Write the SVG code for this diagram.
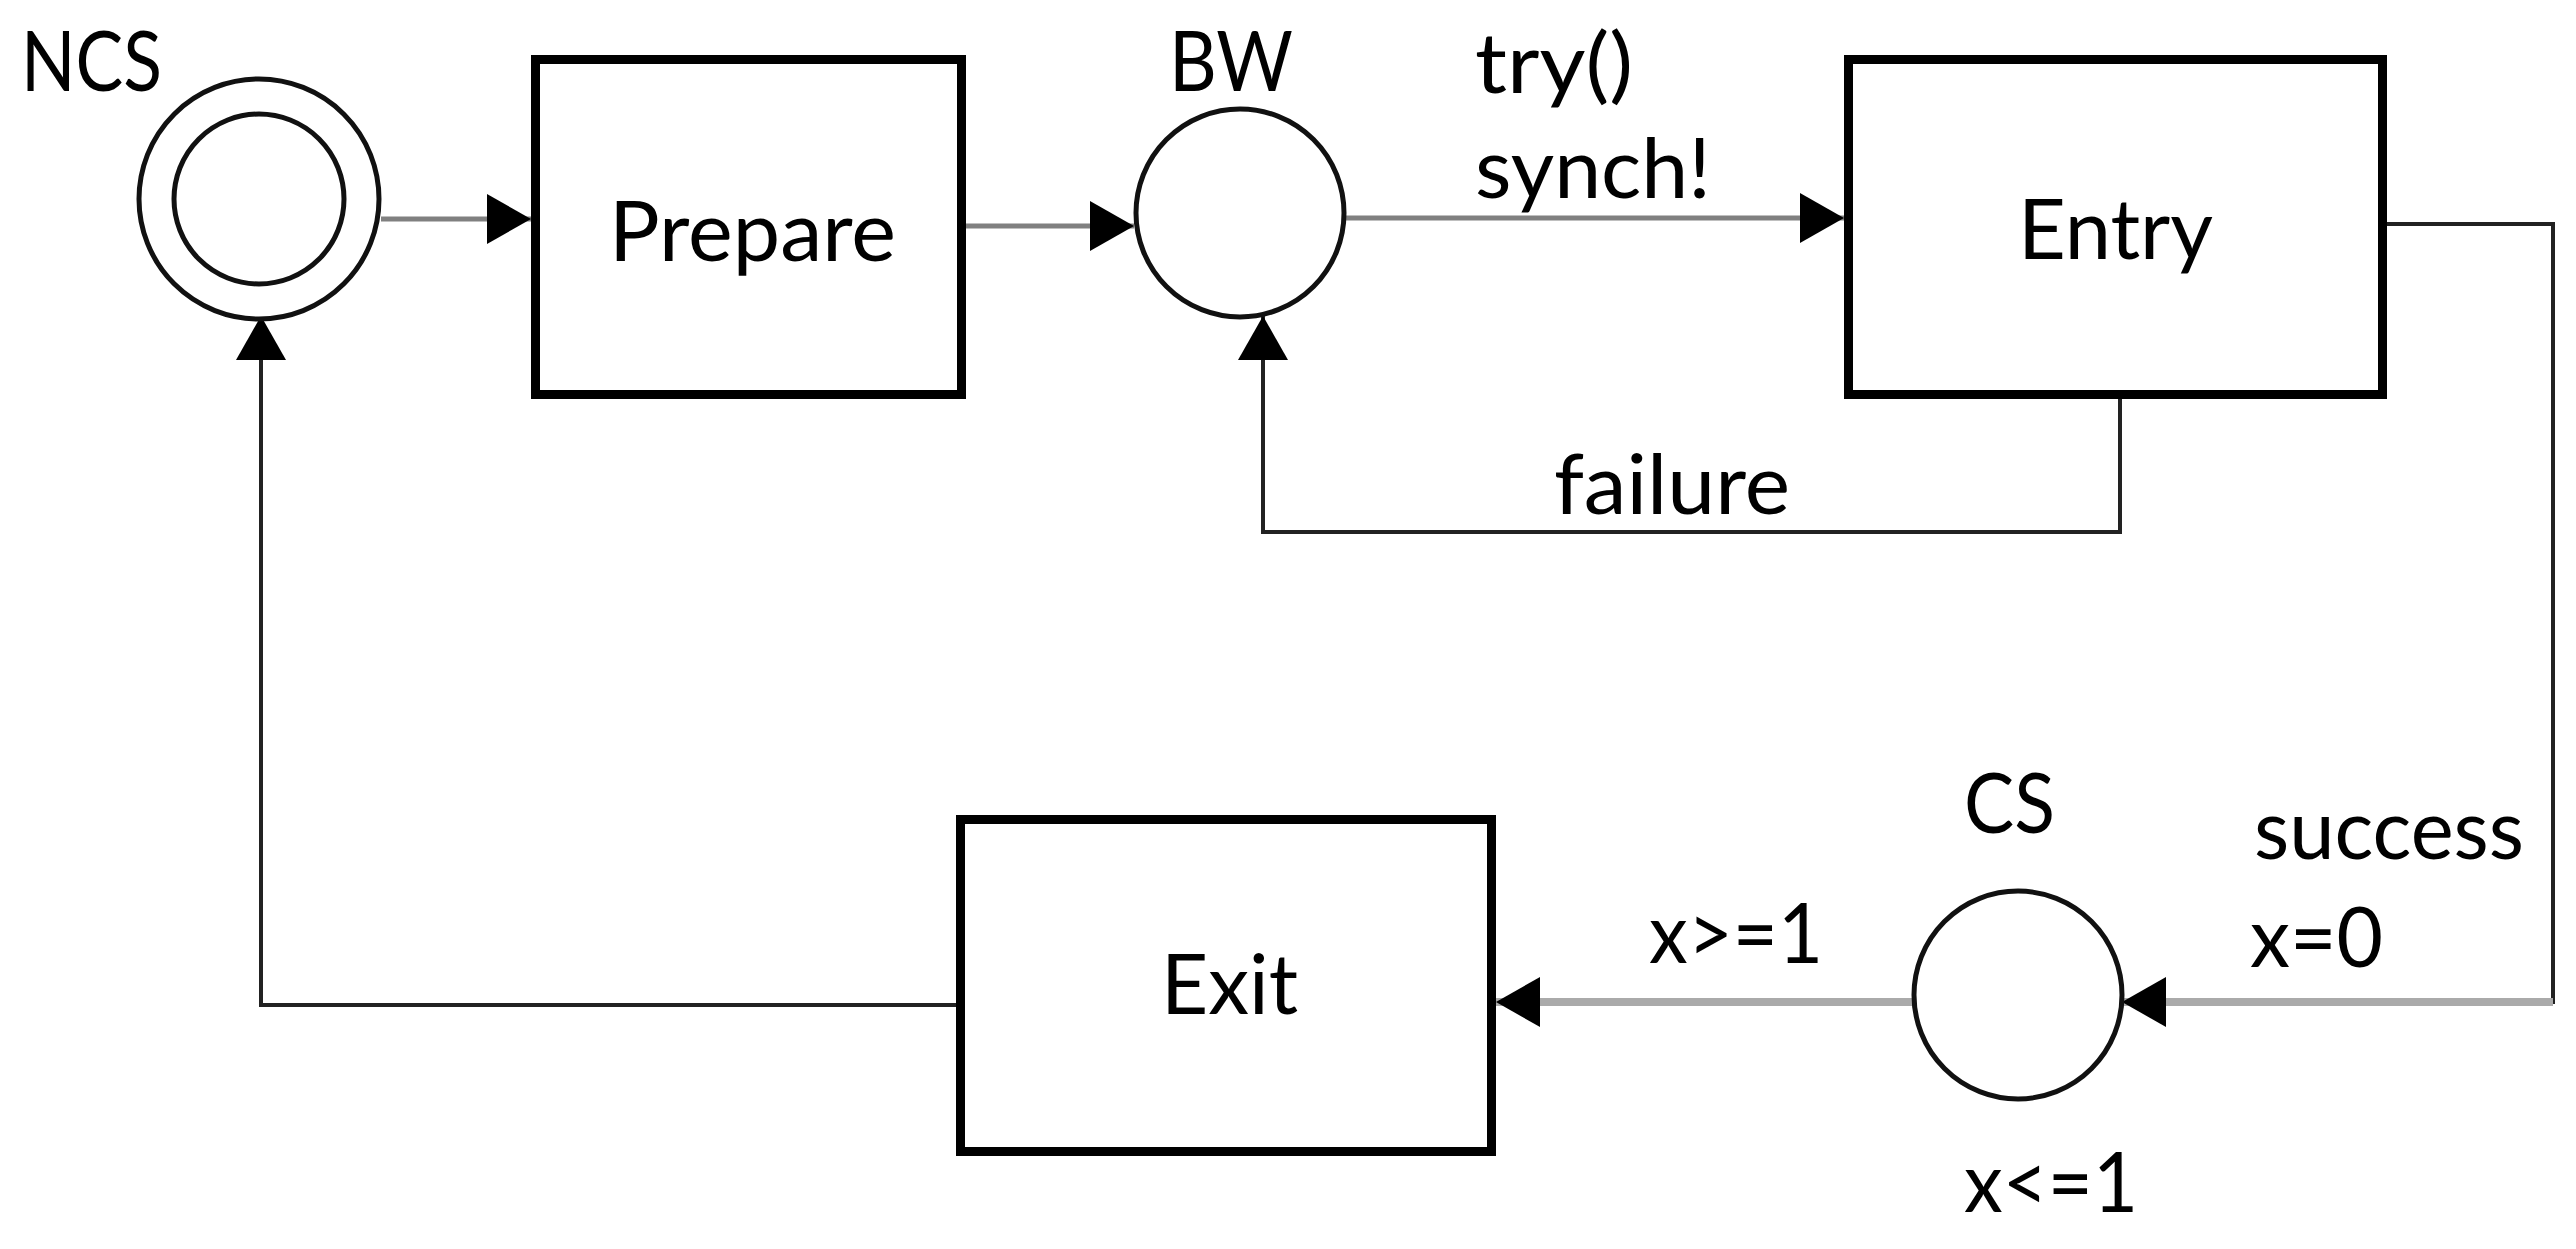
<svg xmlns="http://www.w3.org/2000/svg" width="2576" height="1249" viewBox="0 0 2576 1249">
<style>
.box{fill:#fff;stroke:#000;stroke-width:9}
.st{fill:#fff;stroke:#111;stroke-width:5}
.lbl{font-family:Lato,"Open Sans","Liberation Sans",sans-serif;font-size:83px;fill:#000}
.gl{fill:none;stroke:#808080;stroke-width:5}
.lg{fill:none;stroke:#aaaaaa;stroke-width:8}
.dk{fill:none;stroke:#222;stroke-width:4}
</style>
<defs>
<marker id="ah" markerUnits="userSpaceOnUse" markerWidth="46" markerHeight="52" refX="44" refY="25" orient="auto">
<path d="M0,0 L44,25 L0,50 Z" fill="#000"/>
</marker>
</defs>
<rect width="2576" height="1249" fill="#fff"/>
<g id="connectors">
<line class="gl" x1="381" y1="219" x2="531" y2="219" marker-end="url(#ah)"/>
<line class="gl" x1="966" y1="226" x2="1134" y2="226" marker-end="url(#ah)"/>
<line class="gl" x1="1346" y1="218" x2="1844" y2="218" marker-end="url(#ah)"/>
<polyline class="dk" points="2120,399 2120,532 1263,532 1263,316" marker-end="url(#ah)"/>
<polyline class="dk" points="2387,224 2553,224 2553,1004"/>
<line class="lg" x1="2553" y1="1002" x2="2122" y2="1002" marker-end="url(#ah)"/>
<line class="lg" x1="1914" y1="1002" x2="1496" y2="1002" marker-end="url(#ah)"/>
<polyline class="dk" points="956,1005 261,1005 261,316" marker-end="url(#ah)"/>
</g>
<g id="NCS">
<circle class="st" cx="259" cy="199" r="120"/>
<circle class="st" cx="259" cy="199" r="85"/>
<text class="lbl" x="21" y="91" textLength="141" lengthAdjust="spacingAndGlyphs">NCS</text>
</g>
<g id="Prepare">
<rect class="box" x="535.5" y="59.5" width="426" height="335"/>
<text class="lbl" x="609" y="261" textLength="287" lengthAdjust="spacingAndGlyphs">Prepare</text>
</g>
<g id="BW">
<circle class="st" cx="1240" cy="213" r="104"/>
<text class="lbl" x="1169" y="91" textLength="124" lengthAdjust="spacingAndGlyphs">BW</text>
</g>
<g id="Entry">
<rect class="box" x="1848.5" y="59.5" width="534" height="335"/>
<text class="lbl" x="2018" y="259" textLength="195" lengthAdjust="spacingAndGlyphs">Entry</text>
</g>
<g id="CS">
<circle class="st" cx="2018" cy="995" r="104"/>
<text class="lbl" x="1964" y="833" textLength="91" lengthAdjust="spacingAndGlyphs">CS</text>
<text class="lbl" x="1964" y="1212" textLength="174" lengthAdjust="spacingAndGlyphs">x&lt;=1</text>
</g>
<g id="Exit">
<rect class="box" x="960.5" y="819.5" width="531" height="332"/>
<text class="lbl" x="1161" y="1014" textLength="137" lengthAdjust="spacingAndGlyphs">Exit</text>
</g>
<g id="labels">
<text class="lbl" x="1475" y="93" textLength="158" lengthAdjust="spacingAndGlyphs">try()</text>
<text class="lbl" x="1475" y="198" textLength="236" lengthAdjust="spacingAndGlyphs">synch!</text>
<text class="lbl" x="1554" y="514" textLength="236" lengthAdjust="spacingAndGlyphs">failure</text>
<text class="lbl" x="2254" y="859" textLength="270" lengthAdjust="spacingAndGlyphs">success</text>
<text class="lbl" x="2250" y="967" textLength="133" lengthAdjust="spacingAndGlyphs">x=0</text>
<text class="lbl" x="1649" y="963" textLength="174" lengthAdjust="spacingAndGlyphs">x&gt;=1</text>
</g>
</svg>
